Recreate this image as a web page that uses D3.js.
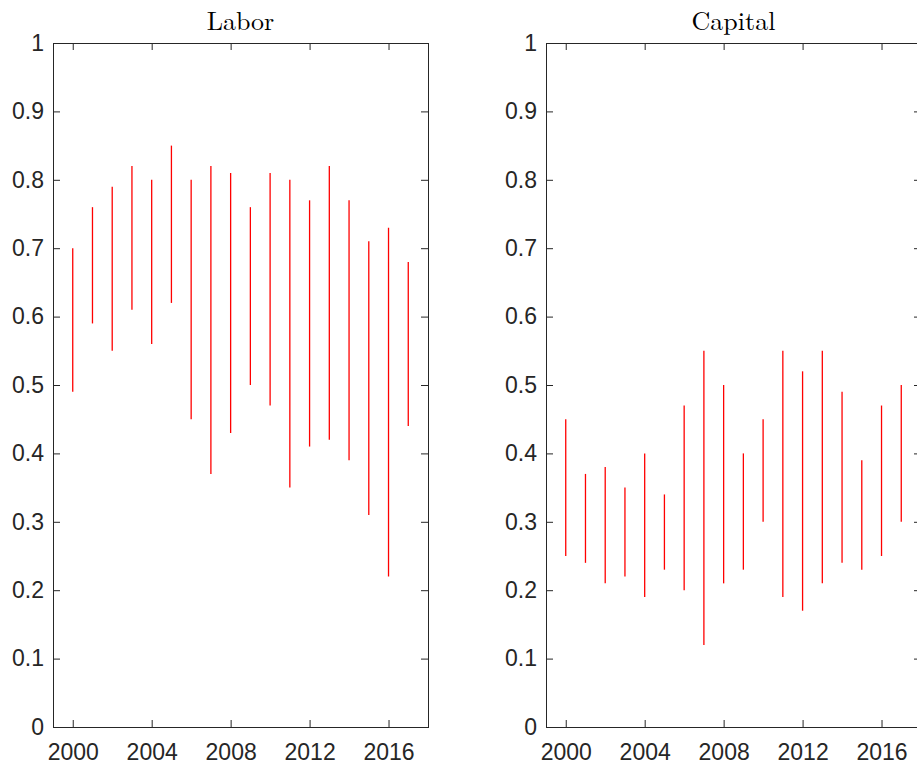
<!DOCTYPE html>
<html><head><meta charset="utf-8">
<script src="https://cdn.jsdelivr.net/npm/d3@7"></script>
<style>body{margin:0;background:#fff;} svg{display:block;}</style>
</head><body>
<svg id="chart" width="917" height="767"></svg>
<script>
const years = [2000,2001,2002,2003,2004,2005,2006,2007,2008,2009,2010,2011,2012,2013,2014,2015,2016,2017];
const laborLow  = [0.49,0.59,0.55,0.61,0.56,0.62,0.45,0.37,0.43,0.50,0.47,0.35,0.41,0.42,0.39,0.31,0.22,0.44];
const laborHigh = [0.70,0.76,0.79,0.82,0.80,0.85,0.80,0.82,0.81,0.76,0.81,0.80,0.77,0.82,0.77,0.71,0.73,0.68];
const capitalLow  = [0.25,0.24,0.21,0.22,0.19,0.23,0.20,0.12,0.21,0.23,0.30,0.19,0.17,0.21,0.24,0.23,0.25,0.30];
const capitalHigh = [0.45,0.37,0.38,0.35,0.40,0.34,0.47,0.55,0.50,0.40,0.45,0.55,0.52,0.55,0.49,0.39,0.47,0.50];
const xTicks = [2000,2004,2008,2012,2016];
const yTicks = [0,0.1,0.2,0.3,0.4,0.5,0.6,0.7,0.8,0.9,1];
const titles = ["Labor","Capital"];

const svg = d3.select("#chart");
const panels = [
  {title: titles[0], low: laborLow, high: laborHigh, x0: 53, x1: 428},
  {title: titles[1], low: capitalLow, high: capitalHigh, x0: 546, x1: 921}
];
const yTop = 43, yBot = 727;
const axisColor = "#262626";
const tickFont = "'Liberation Sans', Arial, Helvetica, sans-serif";

panels.forEach(p => {
  const x = d3.scaleLinear().domain([1999, 2018]).range([p.x0, p.x1]);
  const y = d3.scaleLinear().domain([0, 1]).range([yBot, yTop]);
  const g = svg.append("g");

  // bars
  g.selectAll("line.bar").data(years).enter().append("line")
    .attr("class","bar")
    .attr("x1", (d)=>x(d)).attr("x2", (d)=>x(d))
    .attr("y1", (d,i)=>y(p.low[i])).attr("y2", (d,i)=>y(p.high[i]))
    .attr("stroke", "#ff0000").attr("stroke-width", 1.3);

  // axes
  const fmtY = d => d === 0 ? "0" : d === 1 ? "1" : d3.format(".1f")(d);
  const bottom = g.append("g").attr("transform", `translate(0,${yBot})`)
    .call(d3.axisBottom(x).tickValues(xTicks).tickFormat(d3.format("d")).tickSizeInner(-7).tickSizeOuter(0).tickPadding(17));
  const top = g.append("g").attr("transform", `translate(0,${yTop})`)
    .call(d3.axisTop(x).tickValues(xTicks).tickFormat("").tickSizeInner(-7).tickSizeOuter(0));
  const left = g.append("g").attr("transform", `translate(${p.x0},0)`)
    .call(d3.axisLeft(y).tickValues(yTicks).tickFormat(fmtY).tickSizeInner(-7).tickSizeOuter(0).tickPadding(9));
  const right = g.append("g").attr("transform", `translate(${p.x1},0)`)
    .call(d3.axisRight(y).tickValues(yTicks).tickFormat("").tickSizeInner(-7).tickSizeOuter(0));
  [bottom, top, left, right].forEach(a => {
    a.select(".domain").remove();
    a.selectAll("line").attr("stroke", axisColor).attr("stroke-width", 1);
    a.selectAll("text").attr("fill", axisColor).style("font-family", tickFont).style("font-size", "23px");
  });

  // box
  g.append("rect").attr("x", p.x0 + 0.5).attr("y", yTop + 0.5)
    .attr("width", p.x1 - p.x0).attr("height", yBot - yTop)
    .attr("fill", "none").attr("stroke", axisColor).attr("stroke-width", 1);

  // title
  g.append("text").attr("x", (p.x0 + p.x1) / 2).attr("y", 30)
    .attr("text-anchor", "middle")
    .style("font-family", "'Latin Modern Roman','CMU Serif','DejaVu Serif','Liberation Serif',serif")
    .style("font-size", "26px").attr("fill", "#000")
    .text(p.title);
});
</script>
</body></html>
